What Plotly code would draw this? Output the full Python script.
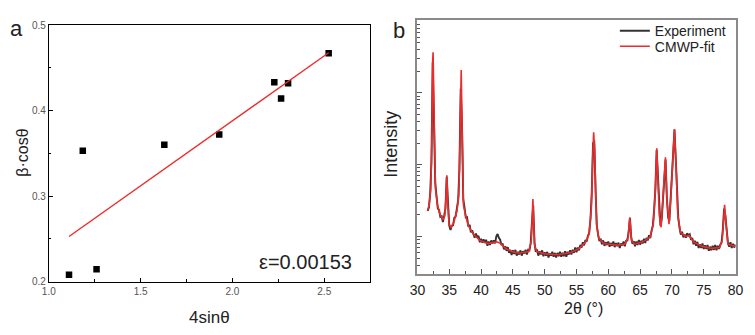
import numpy as np
import plotly.graph_objects as go

# ---- Panel a: Williamson-Hall plot ----
four_sin_theta = [1.110, 1.185, 1.260, 1.629, 1.928, 2.228, 2.265, 2.303, 2.524]
beta_cos_theta = [0.208, 0.353, 0.2145, 0.360, 0.372, 0.433, 0.414, 0.432, 0.467]
strain_text = "ε=0.00153"

# ---- Panel b: XRD pattern (2θ in degrees, intensity in counts) ----
exp_two_theta = np.round(np.arange(31.6, 80.001, 0.2), 1)
exp_counts = [
    226, 252, 390, 1100, 27000, 5200, 560, 368, 246, 232,
    188, 192, 159, 194, 245, 680, 240, 142, 123, 141,
    143, 182, 189, 237, 320, 880, 11500, 3800, 330, 254,
    183, 185, 137, 146, 114, 122, 111, 96, 110, 97,
    102, 83, 93, 82, 91, 81, 90, 74, 85, 76,
    88, 80, 88, 80, 100, 108, 96, 90, 76, 79,
    66, 73, 63, 71, 59, 65, 55, 64, 57, 65,
    54, 61, 56, 64, 54, 62, 58, 65, 56, 65,
    64, 80, 160, 270, 82, 61, 66, 54, 62, 56,
    64, 53, 60, 54, 61, 51, 58, 54, 61, 52,
    59, 51, 59, 53, 61, 52, 59, 53, 62, 52,
    61, 56, 64, 56, 65, 59, 70, 60, 70, 64,
    76, 70, 83, 75, 89, 85, 102, 112, 175, 410,
    2000, 2050, 430, 140, 105, 86, 93, 78, 88, 74,
    83, 76, 85, 72, 81, 74, 85, 71, 81, 73,
    82, 69, 80, 75, 85, 73, 87, 88, 118, 180,
    98, 79, 86, 73, 85, 76, 89, 77, 87, 80,
    93, 81, 95, 88, 104, 95, 120, 142, 235, 460,
    1600, 700, 205, 140, 175, 380, 790, 1180, 350, 185,
    165, 330, 810, 1900, 3050, 1250, 340, 180, 131, 106,
    116, 97, 106, 96, 111, 103, 107, 90, 95, 78,
    87, 74, 84, 69, 78, 69, 80, 67, 75, 67,
    76, 63, 72, 64, 74, 65, 76, 64, 74, 67,
    77, 82, 125, 245, 195, 112, 82, 72, 83, 69,
    79, 70, 77,
]

fit_two_theta = [
    31.6, 31.85, 32.1, 32.26, 32.4, 32.46, 32.57, 32.67, 32.83, 33.14,
    33.54, 34.0, 34.3, 34.46, 34.62, 34.77, 34.98, 35.29, 35.7, 36.2,
    36.5, 36.68, 36.83, 36.88, 36.98, 37.08, 37.23, 37.54, 38.0, 38.77,
    39.8, 41.08, 42.46, 43.1, 43.9, 44.9, 46.0, 47.5, 47.9, 48.06,
    48.15, 48.26, 48.42, 48.77, 50.06, 52.1, 54.15, 55.45, 56.47, 56.98,
    57.34, 57.54, 57.7, 57.85, 58.0, 58.15, 58.52, 59.3, 61.34, 62.6,
    63.13, 63.38, 63.64, 64.15, 65.45, 66.57, 67.08, 67.38, 67.62, 67.8,
    68.0, 68.3, 68.6, 68.98, 69.23, 69.54, 69.85, 70.15, 70.4, 70.67,
    70.92, 71.34, 72.1, 72.7, 73.4, 74.7, 76.2, 77.5, 77.9, 78.12,
    78.28, 78.5, 78.8, 79.8, 80.0,
]
fit_counts = [
    231, 275, 462, 1967, 28900, 36700, 9280, 1171, 462, 275,
    202, 173, 192, 306, 710, 275, 148, 134, 156, 224,
    375, 1967, 15540, 20800, 5530, 698, 275, 202, 141, 108,
    88, 79.5, 84, 79.5, 68, 61.4, 58.3, 61.4, 88, 202,
    331, 164, 75.6, 61.4, 57.2, 55.5, 59.6, 68.1, 84, 108,
    248, 1171, 2820, 1598, 417, 148, 93, 79.5, 75.6, 78,
    98, 185, 88, 78, 84, 98, 148, 417, 1690, 698,
    202, 134, 375, 1270, 306, 148, 375, 1598, 3130, 859,
    202, 114, 100, 103, 84, 73.3, 68.1, 70.2, 88, 164,
    275, 148, 78, 73.3, 73,
]

W, H = 755, 335
FONT = "Arial, Liberation Sans, sans-serif"
RED = "#ee2a2a"

# least-squares line through the W-H points
slope, intercept = np.polyfit(four_sin_theta, beta_cos_theta, 1)
line_x = np.array([min(four_sin_theta), max(four_sin_theta)])
line_y = slope * line_x + intercept

fig = go.Figure()

fig.add_trace(go.Scatter(
    x=four_sin_theta, y=beta_cos_theta, mode="markers",
    marker=dict(symbol="square", size=6.5, color="black"),
    showlegend=False, xaxis="x", yaxis="y"))
fig.add_trace(go.Scatter(
    x=line_x, y=line_y, mode="lines",
    line=dict(color=RED, width=1.4),
    showlegend=False, xaxis="x", yaxis="y"))

fig.add_trace(go.Scatter(
    x=exp_two_theta, y=exp_counts, mode="lines", name="Experiment",
    line=dict(color="#333333", width=1.9),
    xaxis="x2", yaxis="y2", legend="legend"))
fig.add_trace(go.Scatter(
    x=fit_two_theta, y=fit_counts, mode="lines", name="CMWP-fit",
    line=dict(color=RED, width=1.6),
    xaxis="x2", yaxis="y2", legend="legend2"))


def px_x(p):
    return p / W


def px_y(p):
    return 1 - p / H


frame_a = dict(showline=True, linecolor="black", linewidth=1, mirror=True,
               ticks="inside", ticklen=4, tickcolor="black", showgrid=False,
               zeroline=False,
               tickfont=dict(family=FONT, size=10, color="#555555"))
frame_b = dict(showline=True, linecolor="#8a8a8a", linewidth=1.5, mirror=True,
               ticks="inside", ticklen=5, tickcolor="#555555", showgrid=False,
               zeroline=False,
               tickfont=dict(family=FONT, size=14, color="#222222"))

legend_style = dict(xanchor="left", yanchor="middle", bgcolor="rgba(0,0,0,0)",
                    font=dict(family=FONT, size=14, color="#222222"),
                    itemwidth=30, borderwidth=0)

fig.update_layout(
    width=W, height=H,
    margin=dict(l=0, r=0, t=0, b=0),
    paper_bgcolor="white", plot_bgcolor="white",
    font=dict(family=FONT, color="#222222"),
    xaxis=dict(domain=[px_x(41.7), px_x(370)], range=[1.0, 2.75],
               tickvals=[1.0, 1.5, 2.0, 2.5], ticktext=["1.0", "1.5", "2.0", "2.5"],
               minor=dict(ticks="inside", ticklen=2.5, dtick=0.25, tick0=1.0,
                          tickcolor="black"),
               anchor="y", **frame_a),
    yaxis=dict(domain=[px_y(286), px_y(20.7)], range=[0.2, 0.5],
               tickvals=[0.2, 0.3, 0.4, 0.5], ticktext=["0.2", "0.3", "0.4", "0.5"],
               minor=dict(ticks="inside", ticklen=2.5, dtick=0.05, tick0=0.2,
                          tickcolor="black"),
               anchor="x", **frame_a),
    xaxis2=dict(domain=[px_x(418.3), px_x(743.3)], range=[30, 80],
                dtick=5, tick0=30, ticklabelstandoff=3,
                minor=dict(ticks="inside", ticklen=3, dtick=2.5, tick0=30,
                           tickcolor="#555555"),
                anchor="y2", **frame_b),
    yaxis2=dict(domain=[px_y(277.7), px_y(15.7)], type="log",
                range=[1.4825, 5.013], dtick=1, showticklabels=False,
                minor=dict(ticks="inside", ticklen=2.5, dtick="D1",
                           tickcolor="#555555"),
                anchor="x2", **frame_b),
    legend=dict(x=px_x(620), y=px_y(27), **legend_style),
    legend2=dict(x=px_x(620), y=px_y(43), **legend_style),
)

annotations = [
    dict(text="a", x=px_x(9), y=px_y(24), font=dict(size=22)),
    dict(text="b", x=px_x(399), y=px_y(26), font=dict(size=22)),
    dict(text="β·cosθ", x=px_x(15), y=px_y(153), textangle=-90, font=dict(size=16)),
    dict(text="4sinθ", x=px_x(206), y=px_y(323), font=dict(size=17)),
    dict(text="Intensity", x=px_x(391.7), y=px_y(144), textangle=-90, font=dict(size=18)),
    dict(text="2θ (°)", x=px_x(587.5), y=px_y(314), font=dict(size=16)),
    dict(text=strain_text, x=px_x(353), y=px_y(265.7), xanchor="right",
         font=dict(size=20)),
]
for a in annotations:
    a.setdefault("xanchor", "center")
    fig.add_annotation(xref="paper", yref="paper", yanchor="middle",
                       showarrow=False,
                       font=dict(family=FONT, color="#222222", size=a.pop("font")["size"]),
                       **a)

fig.write_html("out.html")
